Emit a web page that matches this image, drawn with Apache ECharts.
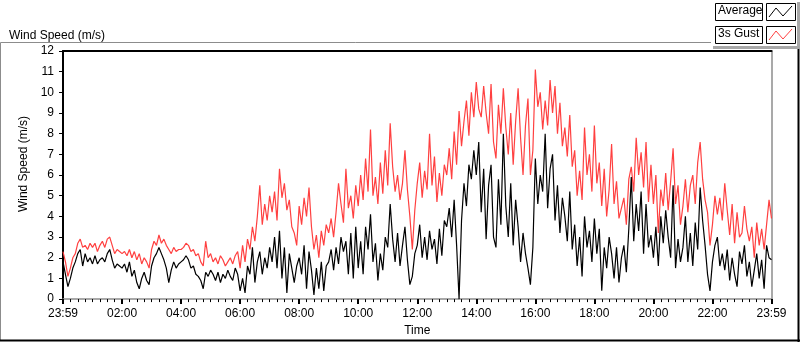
<!DOCTYPE html>
<html lang="en">
<head>
<meta charset="UTF-8">
<title>Wind Speed</title>
<script src="https://cdn.jsdelivr.net/npm/echarts@6/dist/echarts.min.js"></script>
<style>
  html, body { margin: 0; padding: 0; background: #fff; }
  #chart { width: 800px; height: 342px; }
</style>
</head>
<body>
<div id="chart"></div>
<script type="text/javascript">
// one value every 5 minutes, starting 23:59
var stepMin = 5;
var gustWind = [
  2.3, 1.8, 1.1, 1.5, 2.0, 2.2, 2.7, 2.9, 2.5, 2.6, 2.4, 2.7,
  2.5, 2.7, 2.3, 2.6, 2.8, 2.5, 2.9, 3.0, 2.6, 2.2, 2.4, 2.3,
  2.2, 2.3, 2.1, 2.4, 2.0, 2.3, 1.9, 2.2, 1.7, 2.0, 1.8, 1.5,
  2.4, 2.8, 2.6, 3.1, 2.7, 2.9, 2.6, 2.4, 2.2, 2.5, 2.3, 2.4,
  2.4, 2.5, 2.7, 2.6, 2.3, 2.4, 2.1, 2.2, 1.8, 1.6, 2.8, 2.0,
  2.2, 1.8, 2.0, 1.7, 2.1, 1.9, 1.6, 1.8, 2.0, 1.7, 2.1, 2.3,
  1.5, 2.6, 1.8, 2.9, 2.4, 3.5, 2.8, 4.0, 5.5, 3.6, 4.6, 3.8,
  5.0, 4.2, 5.2, 3.8, 6.3, 4.9, 5.6, 4.3, 4.8, 3.5, 3.2, 2.6,
  4.5, 3.6, 4.9, 4.0, 5.4, 3.5, 2.4, 3.1, 2.0, 3.3, 2.6, 3.6,
  3.2, 3.9, 3.0, 4.2, 5.6, 4.6, 3.7, 6.3, 4.4, 5.0, 3.9, 5.5,
  4.5, 6.0, 4.8, 6.8, 5.2, 8.2, 5.0, 5.9, 4.6, 6.6, 5.1, 7.2,
  5.5, 8.5, 6.4, 5.2, 6.0, 4.8, 5.6, 7.2, 5.3, 4.0, 2.4, 4.3,
  5.6, 6.6, 4.9, 6.2, 5.3, 8.0, 5.5, 6.9, 4.7, 6.1, 5.0, 6.5,
  6.0, 7.3, 5.8, 8.1, 6.5, 9.1, 7.4, 8.6, 9.6, 7.9, 10.0, 8.8,
  10.5, 9.2, 8.8, 10.3, 9.0, 8.0, 10.4, 7.6, 6.8, 9.4, 8.0, 10.2,
  8.3, 7.0, 9.0, 6.5, 8.6, 10.2, 7.8, 6.0, 8.4, 9.7, 6.0, 7.2,
  11.1, 9.3, 10.0, 8.2, 9.6, 8.4, 10.6, 9.0, 10.3, 8.0, 9.5, 7.4,
  8.3, 6.9, 8.9, 6.4, 7.2, 5.0, 6.2, 4.8, 8.3, 6.0, 7.0, 5.2,
  8.4, 5.6, 6.6, 4.5, 6.3, 4.0, 5.3, 7.5, 4.6, 5.7, 3.9, 4.4,
  4.9, 3.6, 5.8, 6.4, 5.2, 7.8, 6.0, 7.1, 5.4, 7.6, 4.7, 6.5,
  4.6, 6.0, 3.2, 5.3, 4.5, 6.1, 4.3, 5.7, 7.3, 4.6, 5.5, 3.6,
  4.5, 5.8, 4.2, 5.5, 6.0, 4.6, 6.6, 7.6, 5.8, 4.8, 4.2, 2.6,
  3.6, 5.0, 4.1, 4.9, 3.8, 5.6, 4.3, 3.1, 4.6, 2.7, 4.2, 3.0,
  3.2, 4.5, 3.4, 2.8, 3.5, 2.0, 3.7, 2.6, 3.4, 2.4, 3.6, 4.8, 3.9
];
var avgWind = [
  1.8, 1.2, 0.6, 1.0, 1.5, 1.8, 2.2, 2.4, 1.6, 2.2, 1.8, 2.0,
  1.7, 2.1, 1.7, 1.9, 2.0, 1.8, 2.2, 2.4, 1.9, 1.5, 1.7, 1.6,
  1.5, 1.7, 1.3, 1.8, 1.1, 1.4, 0.8, 0.5, 1.0, 1.3, 0.9, 0.7,
  1.6, 2.0, 2.2, 2.5, 2.2, 1.9, 1.5, 0.8, 1.4, 1.8, 1.5, 1.7,
  1.8, 1.9, 2.1, 1.9, 1.5, 1.6, 1.2, 1.1, 0.9, 0.5, 1.3, 1.1,
  1.4, 1.2, 0.9, 1.3, 0.8, 1.2, 1.0, 1.4, 1.1, 0.9, 1.5, 1.2,
  0.4, 1.0, 0.3, 1.6, 1.2, 2.5, 0.8, 1.8, 2.3, 1.2, 2.0, 1.5,
  2.5, 1.8, 3.0, 1.5, 3.3, 1.0, 2.5, 0.3, 2.2, 1.5, 0.8, 1.6,
  2.0, 1.2, 2.6, 0.5, 2.3, 1.4, 0.2, 1.5, 0.5, 1.8, 0.4, 1.6,
  1.8, 2.4, 1.4, 2.5, 1.7, 3.0, 2.3, 2.8, 1.2, 3.2, 1.0, 3.5,
  1.5, 2.8, 1.2, 3.5, 2.4, 4.1, 1.8, 2.7, 0.9, 2.2, 1.4, 3.0,
  2.5, 4.6, 2.9, 1.8, 3.2, 1.6, 2.6, 3.5, 1.9, 0.7, 1.1, 2.2,
  2.6, 3.6, 2.0, 3.0, 1.9, 3.3, 2.4, 2.9, 1.7, 3.4, 2.1, 3.8,
  3.5, 4.4, 3.0, 4.8, 2.6, 0.0, 3.8, 5.6, 4.5, 6.5, 5.8, 7.2,
  6.0, 7.6, 4.2, 6.3, 2.9, 5.5, 6.5, 3.0, 2.5, 5.8, 3.6, 8.0,
  4.5, 3.0, 5.6, 2.6, 4.8, 3.5, 1.8, 3.2, 2.2, 1.5, 0.7, 2.5,
  6.8, 4.6, 6.0, 5.2, 8.0, 4.4, 6.3, 7.0, 3.8, 5.5, 3.2, 4.9,
  4.0, 2.8, 5.2, 2.4, 3.6, 1.6, 3.0, 1.1, 4.0, 2.5, 3.3, 1.8,
  3.9, 2.2, 3.4, 0.4, 2.5, 1.5, 3.0, 2.2, 1.0, 2.5, 0.8, 2.0,
  2.6, 1.3, 3.4, 5.9, 2.8, 4.6, 3.3, 5.2, 2.2, 4.6, 2.5, 3.1,
  2.0, 3.5, 1.6, 4.0, 2.7, 4.3, 3.0, 2.0, 5.5, 1.5, 2.9, 1.8,
  2.5, 4.0, 1.8, 3.2, 1.6, 3.7, 2.4, 5.4, 3.8, 2.6, 1.2, 0.4,
  1.8, 2.6, 3.0, 1.6, 2.2, 1.4, 2.4, 0.9, 2.0, 1.2, 0.6, 2.3,
  1.7, 2.6, 1.1, 1.8, 0.6, 1.4, 2.2, 1.0, 1.9, 0.5, 2.6, 2.0, 1.9
];
var timeTicks = ['23:59', '02:00', '04:00', '06:00', '08:00', '10:00', '12:00',
                 '14:00', '16:00', '18:00', '20:00', '22:00', '23:59'];

var FONT = 'Liberation Sans';
var chart = echarts.init(document.getElementById('chart'), null, { renderer: 'canvas' });

function toPairs(arr) {
    return arr.map(function (v, i) { return [i * stepMin, v]; });
}

var option = {
    animation: false,
    backgroundColor: '#fff',
    textStyle: { fontFamily: FONT },
    title: {
        text: 'Wind Speed (m/s)',
        left: 4, top: 25,
        textStyle: { fontFamily: FONT, fontSize: 12, fontWeight: 'normal', color: '#000' }
    },
    grid: { left: 63, top: 51, right: 28.5, bottom: 39.5, containLabel: false },
    xAxis: [{
        type: 'value', min: 0, max: 1440, interval: 120,
        name: 'Time', nameLocation: 'middle', nameGap: 25,
        nameTextStyle: { fontFamily: FONT, fontSize: 12, color: '#000' },
        axisLine: { show: true, onZero: false, lineStyle: { color: '#8c8c8c', width: 1.5 } },
        axisTick: { show: true, length: 5, lineStyle: { color: '#000', width: 2 } },
        minorTick: { show: true, splitNumber: 8, length: 3, lineStyle: { color: '#000', width: 1 } },
        splitLine: { show: false },
        axisLabel: {
            margin: 9, color: '#000', fontSize: 12, fontFamily: FONT,
            formatter: function (v) { return timeTicks[Math.round(v / 120)]; }
        }
    }, {
        type: 'value', min: 0, max: 1440, position: 'top',
        axisLine: { show: true, onZero: false, lineStyle: { color: '#000', width: 2 } },
        axisTick: { show: false }, axisLabel: { show: false }, splitLine: { show: false }
    }],
    yAxis: [{
        type: 'value', min: 0, max: 12, interval: 1,
        name: 'Wind Speed (m/s)', nameLocation: 'middle', nameGap: 26, nameRotate: 90,
        nameTextStyle: { fontFamily: FONT, fontSize: 12, color: '#000', padding: [0, 0, 0, 22] },
        axisLine: { show: true, onZero: false, lineStyle: { color: '#000', width: 2 } },
        axisTick: { show: true, length: 4, lineStyle: { color: '#000', width: 1 } },
        splitLine: { show: false },
        axisLabel: { margin: 9, color: '#000', fontSize: 12, fontFamily: FONT }
    }, {
        type: 'value', min: 0, max: 12, position: 'right',
        axisLine: { show: true, onZero: false, lineStyle: { color: '#8c8c8c', width: 1.5 } },
        axisTick: { show: false }, axisLabel: { show: false }, splitLine: { show: false }
    }],
    series: [{
        name: '3s Gust', type: 'line', showSymbol: false, symbol: 'none',
        lineStyle: { color: '#ff4040', width: 1.2 },
        data: toPairs(gustWind)
    }, {
        name: 'Average', type: 'line', showSymbol: false, symbol: 'none',
        lineStyle: { color: '#000', width: 1.2 },
        data: toPairs(avgWind)
    }],
    graphic: [
        // outer chart frame
        { type: 'line', shape: { x1: 0.5, y1: 42.5, x2: 711, y2: 42.5 }, style: { stroke: '#8c8c8c', lineWidth: 1 } },
        { type: 'line', shape: { x1: 0.5, y1: 42.5, x2: 0.5, y2: 341 }, style: { stroke: '#8c8c8c', lineWidth: 1 } },
        { type: 'line', shape: { x1: 0, y1: 340.5, x2: 800, y2: 340.5 }, style: { stroke: '#000', lineWidth: 2 } },
        { type: 'line', shape: { x1: 798.5, y1: 48, x2: 798.5, y2: 342 }, style: { stroke: '#000', lineWidth: 2 } },
        // legend panel
        { type: 'rect', shape: { x: 713, y: 2, width: 87, height: 47 }, style: { fill: '#a8a8a8' } },
        { type: 'rect', shape: { x: 711, y: 0, width: 86, height: 46 }, style: { fill: '#fff' } },
        { type: 'rect', shape: { x: 715.5, y: 3.5, width: 47, height: 17 }, style: { fill: '#fff', stroke: '#000', lineWidth: 1 } },
        { type: 'text', x: 718, y: 5, style: { text: 'Average', font: '12px "Liberation Sans"', fill: '#000' } },
        { type: 'rect', shape: { x: 766.5, y: 3.5, width: 29, height: 17 }, style: { fill: '#fff', stroke: '#000', lineWidth: 1 } },
        { type: 'polyline', shape: { points: [[769, 17], [776, 8], [783, 16], [792, 6]] }, style: { stroke: '#000', lineWidth: 1, fill: null } },
        { type: 'rect', shape: { x: 715.5, y: 26.5, width: 47, height: 17 }, style: { fill: '#fff', stroke: '#000', lineWidth: 1 } },
        { type: 'text', x: 718, y: 28, style: { text: '3s Gust', font: '12px "Liberation Sans"', fill: '#000' } },
        { type: 'rect', shape: { x: 766.5, y: 26.5, width: 29, height: 17 }, style: { fill: '#fff', stroke: '#000', lineWidth: 1 } },
        { type: 'polyline', shape: { points: [[769, 40], [776, 31], [783, 39], [792, 29]] }, style: { stroke: '#ff4040', lineWidth: 1, fill: null } }
    ]
};
chart.setOption(option);
</script>
</body>
</html>
